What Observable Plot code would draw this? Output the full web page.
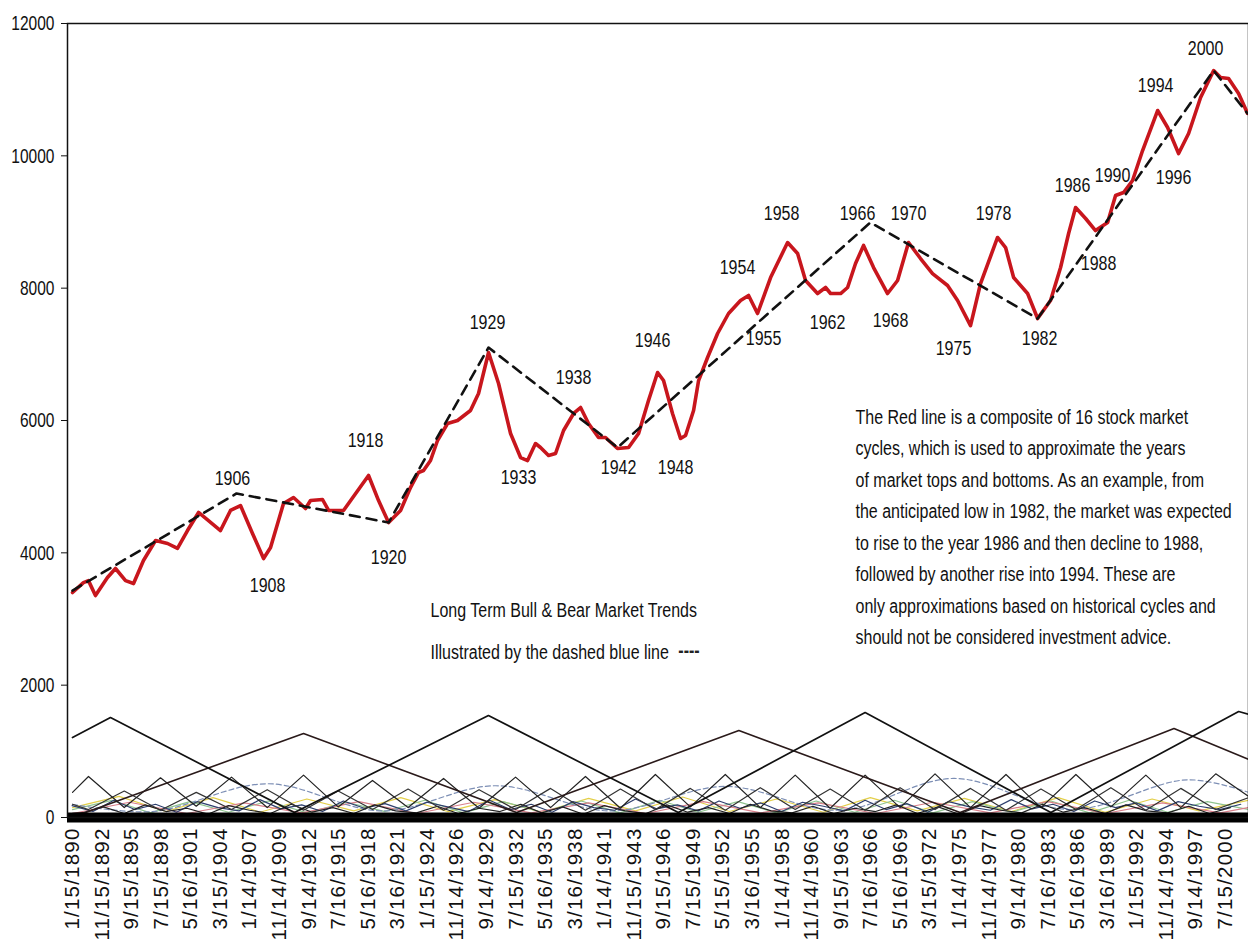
<!DOCTYPE html>
<html><head><meta charset="utf-8">
<script src="https://cdn.jsdelivr.net/npm/d3@7"></script>
<script src="https://cdn.jsdelivr.net/npm/@observablehq/plot@0.6"></script>
<style>
html,body{margin:0;padding:0;background:#fff;}
#chart svg{display:block;overflow:visible;}
#chart [aria-label="x-axis tick label"] text{letter-spacing:1.2px;}
</style></head><body><div id="chart"></div>
<script>
// ---------- DATA ----------
const xTickLabels = ["1/15/1890","11/15/1892","9/15/1895","7/15/1898","5/16/1901","3/15/1904","1/14/1907","11/14/1909","9/14/1912","7/16/1915","5/16/1918","3/16/1921","1/15/1924","11/14/1926","9/14/1929","7/15/1932","5/16/1935","3/16/1938","1/14/1941","11/15/1943","9/15/1946","7/15/1949","5/15/1952","3/16/1955","1/14/1958","11/14/1960","9/15/1963","7/16/1966","5/16/1969","3/15/1972","1/14/1975","11/14/1977","9/14/1980","7/16/1983","5/16/1986","3/16/1989","1/15/1992","11/14/1994","9/14/1997","7/15/2000"];
const yTicks = [0,2000,4000,6000,8000,10000,12000];

// Red composite line (year, value)
const compositeYears = [1890.04,1891.09,1891.57,1892.24,1893.39,1894.16,1895.12,1895.89,1896.84,1898.00,1899.15,1900.10,1901.06,1902.12,1903.07,1904.22,1905.18,1906.14,1907.29,1908.35,1909.02,1910.26,1911.22,1912.37,1912.85,1914.00,1914.58,1916.01,1918.41,1919.37,1920.33,1921.48,1922.43,1923.20,1923.68,1924.35,1925.02,1925.98,1926.94,1928.18,1928.95,1929.91,1930.87,1932.02,1932.98,1933.65,1934.41,1934.89,1935.66,1936.33,1937.10,1938.06,1938.73,1939.49,1940.45,1941.12,1942.27,1943.33,1944.29,1945.24,1946.11,1946.68,1947.54,1948.31,1948.79,1949.56,1950.04,1950.90,1951.86,1952.91,1954.06,1954.83,1955.69,1956.94,1958.57,1959.53,1960.29,1961.44,1962.21,1962.69,1963.65,1964.32,1965.08,1965.85,1966.81,1968.15,1969.11,1970.16,1971.31,1972.46,1973.90,1974.86,1976.10,1977.06,1978.69,1979.46,1980.23,1981.57,1982.53,1983.77,1984.73,1985.50,1986.17,1987.13,1988.08,1989.24,1990.00,1990.77,1991.63,1992.59,1994.03,1994.99,1996.04,1997.00,1998.15,1999.40,2000.07,2000.83,2001.79,2002.65];
const compositeValues = [3400,3550,3580,3355,3627,3763,3580,3536,3884,4186,4141,4066,4337,4610,4488,4337,4640,4715,4292,3914,4080,4745,4836,4670,4791,4806,4640,4640,5169,4790,4458,4640,4987,5214,5244,5395,5698,5955,6000,6151,6408,7028,6559,5803,5440,5395,5652,5592,5471,5501,5849,6106,6196,5955,5743,5743,5577,5592,5803,6302,6725,6604,6106,5728,5773,6151,6604,6952,7315,7617,7813,7889,7617,8161,8690,8524,8116,7919,8010,7919,7919,8010,8373,8645,8312,7919,8116,8690,8448,8221,8040,7813,7435,8070,8766,8614,8161,7919,7541,7813,8312,8826,9219,9053,8871,8992,9400,9446,9627,10080,10685,10428,10035,10337,10881,11289,11183,11168,10942,10640];

// Long-term trend (dashed)
const trendYears  = [1890.04,1905.76,1920.33,1929.91,1942.27,1966.50,1982.53,1999.40,2002.65];
const trendValues = [3430,4897,4458,7103,5592,8992,7541,11289,10640];

// Year annotations
const labelText   = ["1906","1908","1918","1920","1929","1933","1938","1942","1946","1948","1954","1955","1958","1962","1966","1968","1970","1975","1978","1982","1986","1988","1990","1994","1996","2000"];
const labelYears  = [1905.37,1908.73,1918.12,1920.33,1929.81,1932.78,1938.06,1942.37,1945.63,1947.83,1953.77,1956.27,1957.99,1962.40,1965.27,1968.44,1970.16,1974.47,1978.31,1982.72,1985.88,1988.37,1989.71,1993.84,1995.56,1998.63];
const labelValues = [5123,3506,5698,3929,7481,5138,6650,5290,7209,5290,8312,7239,9128,7481,9128,7511,9128,7088,9128,7239,9551,8373,9703,11063,9672,11622];

// Text notes
const trendNote = ["Long Term Bull & Bear Market Trends","Illustrated by the dashed blue line"];
const trendSwatch = "----";
const paragraphLines = ["The Red line is a composite of 16 stock market","cycles, which is used to approximate the years","of market tops and bottoms. As an example, from","the anticipated low in 1982, the market was expected","to rise to the year 1986 and then decline to 1988,","followed by another rise into 1994. These are","only approximations based on historical cycles and","should not be considered investment advice."];

// Individual cycles at the bottom: [year, value]
const cycleLongA = [[1890.04,1209],[1893.68,1511],[1911.3,75],[1929.9,1541],[1948.1,75],[1966.0,1587],[1983.8,75],[2001.8,1602],[2002.74,1560]];
const cycleLongB = [[1890.04,60],[1891.3,75],[1912.18,1270],[1932.6,75],[1953.9,1315],[1975.1,75],[1995.6,1345],[2002.74,880]];
const cycleShortC = [[1890.04,380],[1891.57,620],[1895.0,150],[1898.47,600],[1901.9,170],[1905.28,610],[1908.7,150],[1912.18,640],[1915.5,160],[1918.79,560],[1922.2,150],[1925.6,590],[1929.0,140],[1932.5,610],[1935.85,150],[1939.2,620],[1942.55,140],[1945.9,650],[1949.25,160],[1952.6,650],[1955.95,150],[1959.3,640],[1962.65,140],[1966.0,640],[1969.35,150],[1972.7,660],[1976.1,150],[1979.5,650],[1982.85,150],[1986.2,650],[1989.55,160],[1992.9,640],[1996.25,150],[1999.6,660],[2002.74,320]];
const cycleShortD = [[1890.04,200],[1891.57,120],[1895.0,400],[1898.47,110],[1901.9,380],[1905.28,120],[1908.7,420],[1912.18,110],[1915.5,400],[1918.79,120],[1922.2,430],[1925.6,110],[1929.0,420],[1932.5,120],[1935.85,440],[1939.2,110],[1942.55,430],[1945.9,120],[1949.25,440],[1952.6,110],[1955.95,450],[1959.3,120],[1962.65,430],[1966.0,110],[1969.35,450],[1972.7,120],[1976.1,440],[1979.5,110],[1982.85,430],[1986.2,120],[1989.55,450],[1992.9,110],[1996.25,440],[1999.6,120],[2002.74,300]];
const cycleArcE = [[1890.04,200],[1897.7,90],[1908.7,510],[1919.7,100],[1930.6,480],[1941.6,100],[1952.6,470],[1963.5,110],[1974.5,590],[1985.7,120],[1996.9,570],[2002.74,380]];
const cycleYellowF = [[1890.04,150],[1894.5,320],[1899,90],[1903.5,300],[1908,80],[1912.5,280],[1917,100],[1921.5,300],[1926,90],[1930.5,270],[1935,80],[1939.5,290],[1944,100],[1948.5,310],[1953,90],[1957.5,280],[1962,80],[1966.5,300],[1971,100],[1975.5,290],[1980,90],[1984.5,300],[1989,80],[1993.5,280],[1998,100],[2002.74,260]];
const cyclePinkG = [[1890.04,60],[1895.5,230],[1901,60],[1906.5,220],[1912,70],[1917.5,240],[1923,60],[1928.5,230],[1934,70],[1939.5,220],[1945,60],[1950.5,240],[1956,70],[1961.5,220],[1967,60],[1972.5,230],[1978,70],[1983.5,240],[1989,60],[1994.5,220],[2000,70],[2002.74,150]];
const cycleNavyH = [[1890,180],[1892,90],[1894,260],[1896,120],[1898,200],[1900,80],[1902,240],[1904,150],[1906,100],[1908,270],[1910,130],[1912,190],[1914,90],[1916,250],[1918,140],[1920,210],[1922,100],[1924,230],[1926,160],[1928,90],[1930,260],[1932,120],[1934,200],[1936,80],[1938,240],[1940,150],[1942,110],[1944,280],[1946,130],[1948,190],[1950,100],[1952,250],[1954,140],[1956,220],[1958,90],[1960,230],[1962,170],[1964,100],[1966,260],[1968,120],[1970,210],[1972,80],[1974,240],[1976,160],[1978,110],[1980,270],[1982,130],[1984,200],[1986,90],[1988,250],[1990,150],[1992,220],[1994,100],[1996,240],[1998,170],[2000,120],[2002,200]];
const cycleBlackI = [[1891,70],[1893,160],[1895,60],[1897,190],[1899,90],[1901,140],[1903,50],[1905,180],[1907,110],[1909,60],[1911,200],[1913,80],[1915,150],[1917,60],[1919,190],[1921,100],[1923,70],[1925,170],[1927,60],[1929,140],[1931,90],[1933,200],[1935,70],[1937,160],[1939,50],[1941,180],[1943,100],[1945,60],[1947,190],[1949,80],[1951,150],[1953,60],[1955,200],[1957,100],[1959,70],[1961,170],[1963,60],[1965,140],[1967,90],[1969,190],[1971,60],[1973,160],[1975,50],[1977,180],[1979,110],[1981,70],[1983,200],[1985,80],[1987,150],[1989,60],[1991,190],[1993,100],[1995,70],[1997,170],[1999,60],[2001,150]];
const cycleGreenJ = [[1890.04,120],[1893.8,260],[1897.5,70],[1901.3,240],[1905,80],[1908.8,250],[1912.5,70],[1916.3,230],[1920,90],[1923.8,260],[1927.5,70],[1931.3,240],[1935,80],[1938.8,250],[1942.5,70],[1946.3,260],[1950,80],[1953.8,240],[1957.5,70],[1961.3,250],[1965,80],[1968.8,260],[1972.5,70],[1976.3,240],[1980,80],[1983.8,250],[1987.5,70],[1991.3,260],[1995,80],[1998.8,240],[2002.74,120]];

// ---------- BUILD ----------
const parseTick = s => { const [m,d,y] = s.split("/").map(Number); return y + (m-1)/12 + (d-1)/365; };
const tickYears = xTickLabels.map(parseTick);
const tickMap = new Map(tickYears.map((t,i)=>[t,xTickLabels[i]]));
const composite = compositeYears.map((y,i)=>({year:y,value:compositeValues[i]}));
const trend = trendYears.map((y,i)=>({year:y,value:trendValues[i]}));
const labels = labelText.map((t,i)=>({text:t,year:labelYears[i],value:labelValues[i]}));
const toRows = arr => arr.map(([year,value])=>({year,value}));

const ARIAL = "'Liberation Sans',Arial,sans-serif";

const thin = (arr, stroke, extra={}) => Plot.line(toRows(arr), {x:"year", y:"value", stroke, strokeWidth:1.2, ...extra});

const chart = Plot.plot({
  width: 1248, height: 947,
  marginTop: 23, marginBottom: 130, marginLeft: 67, marginRight: 0,
  x: {type:"linear", domain:[1889.56, 2002.74], label: null},
  y: {domain:[0,12000], label: null},
  style: {background:"#fff", color:"#111", fontFamily: ARIAL},
  marks: [
    thin(cycleYellowF, "#e3cf4a"),
    thin(cycleGreenJ, "#8fc48f"),
    thin(cyclePinkG, "#d97f8a"),
    thin(cycleArcE, "#7d8fb5", {curve:"catmull-rom", strokeDasharray:"5,3"}),
    thin(cycleNavyH, "#2e3f6e"),
    thin(cycleBlackI, "#222"),
    thin(cycleShortD, "#333"),
    thin(cycleShortC, "#222"),
    thin(cycleLongB, "#2a1a1a", {strokeWidth:1.6}),
    thin(cycleLongA, "#111", {strokeWidth:1.7}),
    Plot.ruleY([0], {stroke:"#000", strokeWidth:10}),
    Plot.frame({stroke:"#111", strokeWidth:1.5}),
    Plot.axisY({ticks: yTicks, tickFormat: "d", tickSize: 6, tickPadding: 7, fontSize: 21, fontFamily: ARIAL, label: null}),
    Plot.axisX({ticks: tickYears, tickFormat: d => tickMap.get(d), tickRotate: -90, tickSize: 0, tickPadding: 10, fontSize: 20.5, fontFamily: ARIAL, label: null}),
    Plot.line(composite, {x:"year", y:"value", stroke:"#c8161d", strokeWidth:3.6, strokeLinejoin:"round"}),
    Plot.line(trend, {x:"year", y:"value", stroke:"#111", strokeWidth:2.6, strokeDasharray:"10,7"}),
    Plot.text(labels, {x:"year", y:"value", text:"text", fontSize:20, fontFamily: ARIAL, fill:"#111"}),
    Plot.text([trendNote[0]], {x: () => 1924.35, y: () => 3128, text: d => d, textAnchor:"start", fontSize:20, fontFamily: ARIAL, fill:"#111"}),
    Plot.text([trendNote[1]], {x: () => 1924.35, y: () => 2494, text: d => d, textAnchor:"start", fontSize:20, fontFamily: ARIAL, fill:"#111"}),
    Plot.text([trendSwatch], {x: () => 1948.1, y: () => 2520, text: d => d, textAnchor:"start", fontSize:20, fontWeight:"bold", fontFamily: ARIAL, fill:"#222"}),
    Plot.text([paragraphLines.join("\n")], {x: () => 1965.08, y: () => 4436, text: d => d, textAnchor:"start", lineAnchor:"middle", lineHeight: 1.575, fontSize:20, fontFamily: ARIAL, fill:"#111"})
  ]
});
// Condense the in-chart texts horizontally (narrow typeface look of the original)
const condense = (sel, k) => chart.querySelectorAll(sel).forEach(t => {
  t.setAttribute("transform", (t.getAttribute("transform") || "") + ` scale(${k},1)`);
});
condense('g[aria-label="text"] text', 0.8);
condense('g[aria-label="y-axis tick label"] text', 0.74);
document.getElementById("chart").append(chart);
</script></body></html>
